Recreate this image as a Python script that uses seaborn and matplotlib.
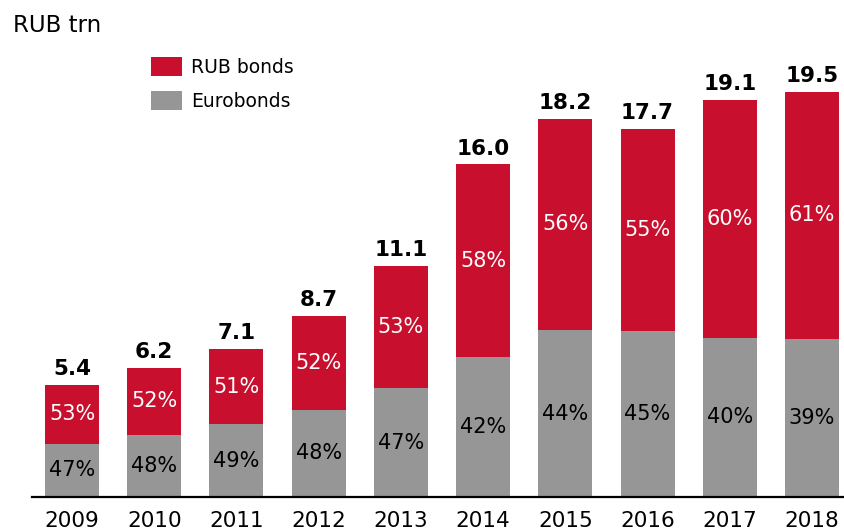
import matplotlib
matplotlib.use("Agg")
import matplotlib.pyplot as plt
from matplotlib.patches import Patch
import seaborn as sns
import pandas as pd

years = ["2009", "2010", "2011", "2012", "2013", "2014", "2015", "2016", "2017", "2018"]
totals = [5.4, 6.2, 7.1, 8.7, 11.1, 16.0, 18.2, 17.7, 19.1, 19.5]
rub_share = [53, 52, 51, 52, 53, 58, 56, 55, 60, 61]
euro_share = [47, 48, 49, 48, 47, 42, 44, 45, 40, 39]

RED = "#C8102E"
GREY = "#969696"

sns.set_theme(style="white")
plt.rcParams["font.family"] = ["DejaVu Sans"]
plt.rcParams["text.color"] = "black"

df = pd.DataFrame({"year": years, "total": totals,
                   "rub": rub_share, "euro": euro_share})
df["euro_val"] = df["total"] * df["euro"] / 100

fig = plt.figure(figsize=(8.44, 5.31), dpi=100)
ax = fig.add_axes([32 / 844, (531 - 496.7) / 531, (844 - 32) / 844, 457 / 531])

# total bar in red, eurobond part painted over it in grey
sns.barplot(data=df, x="year", y="total", color=RED, width=0.657,
            saturation=1, ax=ax, linewidth=0)
sns.barplot(data=df, x="year", y="euro_val", color=GREY, width=0.657,
            saturation=1, ax=ax, linewidth=0)

ax.set_ylim(0, 22)
ax.set_xlim(-0.487, 9.39)

for i, row in df.iterrows():
    ax.annotate(f"{row['total']:.1f}", (i, row["total"]), xytext=(0, 7),
                textcoords="offset points", ha="center", va="baseline",
                fontsize=15.5, fontweight="bold", color="black")
    ax.text(i, (row["total"] + row["euro_val"]) / 2, f"{row['rub']}%",
            ha="center", va="center", fontsize=15, color="white")
    ax.text(i, row["euro_val"] / 2, f"{row['euro']}%",
            ha="center", va="center", fontsize=15, color="black")

for side in ["left", "right", "top"]:
    ax.spines[side].set_visible(False)
ax.spines["bottom"].set_color("black")
ax.spines["bottom"].set_linewidth(1.6)
ax.set_yticks([])
ax.set_xlabel("")
ax.set_ylabel("")
ax.tick_params(axis="x", length=0, pad=10, labelsize=15.5, colors="black")

fig.text(13 / 844, 1 - 25 / 531, "RUB trn", ha="left", va="center",
         fontsize=16.5, color="black")

handles = [Patch(facecolor=RED, edgecolor="none", label="RUB bonds"),
           Patch(facecolor=GREY, edgecolor="none", label="Eurobonds")]
fig.legend(handles=handles, loc="upper left",
           bbox_to_anchor=(151 / 844, 1 - 57 / 531), frameon=False,
           fontsize=13.5, handlelength=1.65, handleheight=1.2,
           handletextpad=0.5, labelspacing=0.75, borderaxespad=0,
           borderpad=0, labelcolor="black")

fig.savefig("out.png", dpi=100)
